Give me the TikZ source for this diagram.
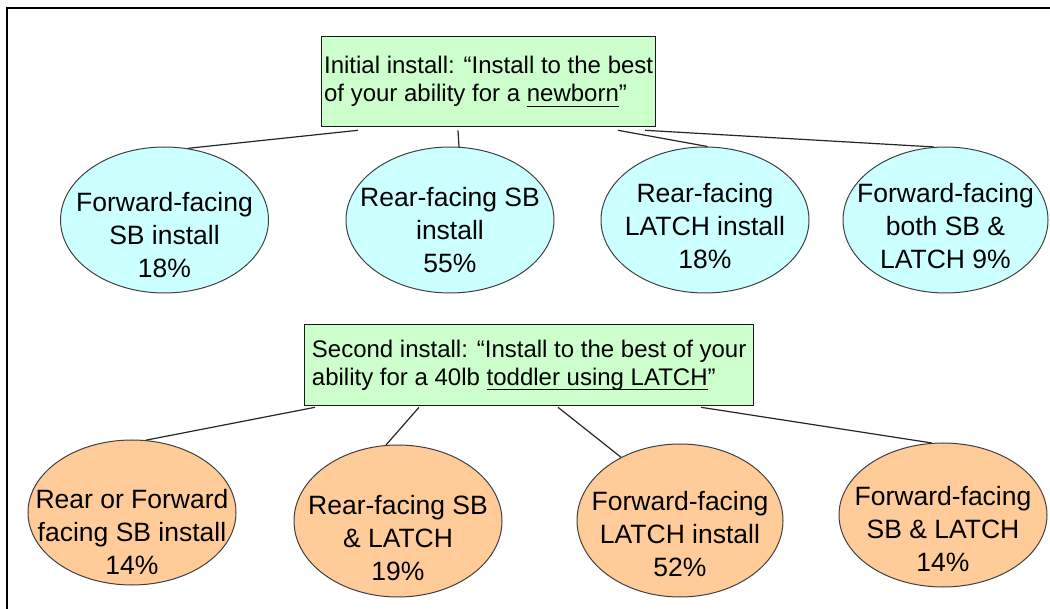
\documentclass[tikz,border=0pt]{standalone}
\usepackage{fontspec}
\setmainfont{Liberation Sans}
\usetikzlibrary{shapes.geometric}
\definecolor{boxgreen}{HTML}{CCFFCC}
\definecolor{ellcyan}{HTML}{CCFFFF}
\definecolor{ellorange}{HTML}{FFCC99}
\newcommand{\myul}[1]{\leavevmode\setbox0\hbox{#1}\rlap{\rule[-5pt]{\wd0}{1.2pt}}\box0}
\begin{document}
\begin{tikzpicture}[x=1pt,y=-1pt,
  qbox/.style={draw=black!90, line width=1.3pt, fill=boxgreen, rectangle, anchor=north west,
    align=left, font=\fontsize{24}{28}\selectfont, inner ysep=0pt, inner xsep=0pt},
  ell/.style={ellipse, draw=black!75, line width=1pt, minimum width=208pt, minimum height=146pt, inner sep=0pt},
  topell/.style={ell, fill=ellcyan},
  botell/.style={ell, fill=ellorange},
  etext/.style={align=center, font=\fontsize{26.5}{33}\selectfont, inner sep=0pt},
  conn/.style={line width=1.2pt, draw=black!85}
]
\useasboundingbox (0,0) rectangle (1050,609);
% frame
\draw[line width=2.5pt] (7,625) -- (7,8) -- (1065,8);

% question boxes
\node[qbox, minimum width=334pt, minimum height=90pt] (t1) at (321,36)
  {Initial install: “Install to the best\\of your ability for a \myul{newborn}”};
\node[qbox, minimum width=449pt, minimum height=81pt] (t2) at (304,324)
  {Second install: “Install to the best of your\\ability for a 40lb \myul{toddler using LATCH}”};

% top ellipses
\node[topell] (e1) at (164.5,220) {};
\node[topell] (e2) at (450,220) {};
\node[topell] (e3) at (705,220) {};
\node[topell, minimum width=205pt] (e4) at (945.5,220) {};
% bottom ellipses
\node[botell, minimum height=145pt] (b1) at (132,512.5) {};
\node[botell, minimum height=152pt] (b2) at (398,521) {};
\node[botell, minimum height=153pt, minimum width=206pt] (b3) at (680,520.5) {};
\node[botell, minimum height=144pt] (b4) at (943,515) {};

% texts
\node[etext] (e1t) at ([yshift=-15.5]e1.center) {Forward-facing\\SB install\\18\%};
\node[etext] (e2t) at ([yshift=-10.5]e2.center) {Rear-facing SB\\install\\55\%};
\node[etext] (e3t) at ([yshift=-6.5]e3.center) {Rear-facing\\LATCH install\\18\%};
\node[etext] (e4t) at ([yshift=-6.5]e4.center) {Forward-facing\\both SB \&\\LATCH 9\%};
\node[etext] (b1t) at ([yshift=-19]b1.center) {Rear or Forward\\facing SB install\\14\%};
\node[etext] (b2t) at ([yshift=-17.5]b2.center) {Rear-facing SB\\\& LATCH\\19\%};
\node[etext] (b3t) at ([yshift=-14]b3.center) {Forward-facing\\LATCH install\\52\%};
\node[etext] (b4t) at ([yshift=-13.5]b4.center) {Forward-facing\\SB \& LATCH\\14\%};

% connectors
\draw[conn] ([shift={(37,3)}]t1.south west) -- (e1.72.5);
\draw[conn] ([shift={(137,3)}]t1.south west) -- (e2.83.7);
\draw[conn] ([shift={(297,3)}]t1.south west) -- (e3.88.5);
\draw[conn] ([shift={(324,3)}]t1.south west) -- (e4.99.8);
\draw[conn] ([shift={(11,1)}]t2.south west) -- (b1.79.8);
\draw[conn] ([shift={(115,1)}]t2.south west) -- (b2.99.8);
\draw[conn] ([shift={(254,1)}]t2.south west) -- (b3.133.8);
\draw[conn] ([shift={(397,1)}]t2.south west) -- (b4.99.8);
\end{tikzpicture}
\end{document}
